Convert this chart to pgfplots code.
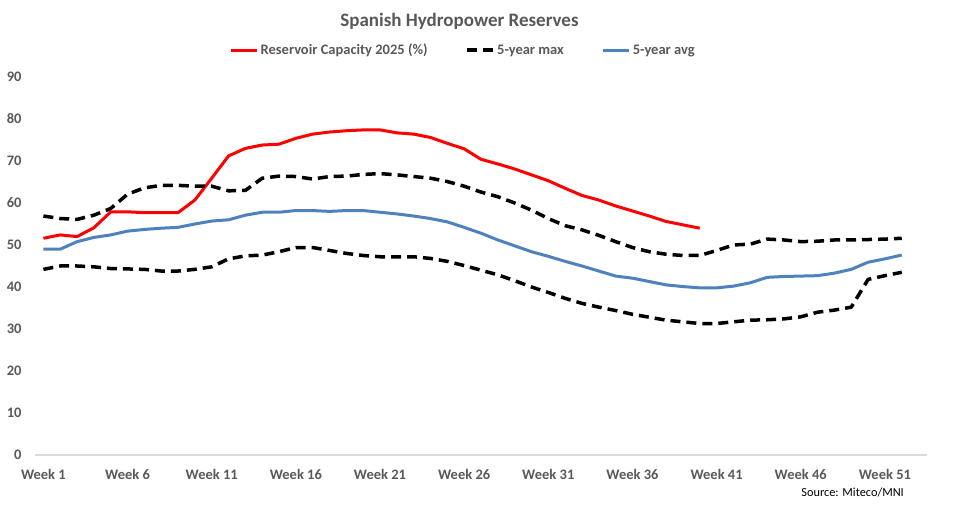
\documentclass[border=0pt]{standalone}
\usepackage{fontspec}
\setmainfont{Carlito}
\usepackage{pgfplots}
\pgfplotsset{compat=1.18}
\definecolor{txtgray}{HTML}{595959}
\definecolor{avgblue}{HTML}{4F81BD}
\definecolor{axgray}{HTML}{D9D9D9}
\newcommand\tickfont{\fontsize{14.5}{17}\selectfont\bfseries}
\begin{document}
\begin{tikzpicture}
\useasboundingbox (-35pt,-53pt) rectangle (919pt,455pt);
\begin{axis}[
  at={(0,0)}, anchor=south west,
  scale only axis, width=892pt, height=378pt,
  xmin=0.5, xmax=53.5, ymin=0, ymax=90,
  axis x line*=bottom, axis y line*=left,
  x axis line style={-, draw=axgray, line width=1.2pt},
  y axis line style={draw=none},
  major tick length=0pt,
  xtick={1,6,11,16,21,26,31,36,41,46,51},
  xticklabels={Week 1,Week 6,Week 11,Week 16,Week 21,Week 26,Week 31,Week 36,Week 41,Week 46,Week 51},
  ytick={0,10,...,90},
  /pgf/number format/assume math mode=true,
  tick label style={font=\tickfont, text=txtgray},
  xticklabel style={anchor=base, yshift=-25pt},
  yticklabel style={anchor=east, xshift=-10pt},
  legend columns=3,
  legend style={at={(0.48,1.071)}, anchor=center, draw=none, fill=none,
    font=\tickfont, text=txtgray, column sep=0pt,
    nodes={inner xsep=2pt},
    /tikz/every even column/.append style={column sep=36pt}},
  legend image code/.code={\draw[#1] (0pt,0pt) -- (26pt,0pt);},
  clip=false,
]
\addplot[red, line width=3pt, line join=round] coordinates {
(1,51.6)(2,52.4)(3,52.0)(4,54.1)(5,57.9)(6,57.9)(7,57.7)(8,57.7)(9,57.7)(10,60.7)
(11,65.9)(12,71.2)(13,73.0)(14,73.8)(15,74.0)(16,75.4)(17,76.4)(18,76.9)(19,77.2)(20,77.4)
(21,77.4)(22,76.7)(23,76.4)(24,75.6)(25,74.2)(26,72.9)(27,70.4)(28,69.3)(29,68.1)(30,66.7)
(31,65.3)(32,63.5)(33,61.8)(34,60.7)(35,59.3)(36,58.1)(37,56.9)(38,55.6)(39,54.8)(40,54.0)};
\addlegendentry{Reservoir Capacity 2025 (\%)}
\addplot[black, line width=3.5pt, dash pattern=on 10pt off 6pt, line join=round] coordinates {
(1,56.9)(2,56.3)(3,56.1)(4,57.1)(5,58.7)(6,62.1)(7,63.6)(8,64.2)(9,64.2)(10,64.0)
(11,64.0)(12,62.9)(13,63.0)(14,65.9)(15,66.4)(16,66.3)(17,65.7)(18,66.3)(19,66.4)(20,66.8)
(21,67.0)(22,66.7)(23,66.3)(24,65.9)(25,65.1)(26,64.0)(27,62.6)(28,61.5)(29,60.0)(30,58.3)
(31,56.3)(32,54.6)(33,53.6)(34,52.3)(35,50.8)(36,49.4)(37,48.4)(38,47.8)(39,47.5)(40,47.5)
(41,48.7)(42,50.0)(43,50.2)(44,51.4)(45,51.2)(46,50.8)(47,50.9)(48,51.2)(49,51.2)(50,51.3)
(51,51.4)(52,51.6)};
\addlegendentry{5-year max}
\addplot[avgblue, line width=3pt, line join=round] coordinates {
(1,49.0)(2,49.0)(3,50.8)(4,51.8)(5,52.4)(6,53.3)(7,53.7)(8,54.0)(9,54.2)(10,55.0)
(11,55.7)(12,56.0)(13,57.1)(14,57.8)(15,57.8)(16,58.2)(17,58.2)(18,58.0)(19,58.2)(20,58.2)
(21,57.8)(22,57.4)(23,56.9)(24,56.3)(25,55.5)(26,54.2)(27,52.8)(28,51.2)(29,49.8)(30,48.4)
(31,47.3)(32,46.1)(33,45.0)(34,43.8)(35,42.6)(36,42.1)(37,41.3)(38,40.5)(39,40.1)(40,39.8)
(41,39.8)(42,40.2)(43,41.0)(44,42.3)(45,42.5)(46,42.6)(47,42.7)(48,43.3)(49,44.2)(50,45.9)
(51,46.7)(52,47.6)};
\addlegendentry{5-year avg}
\addplot[black, line width=3.5pt, dash pattern=on 10pt off 6pt, line join=round, forget plot] coordinates {
(1,44.2)(2,45.0)(3,45.0)(4,44.8)(5,44.4)(6,44.3)(7,44.2)(8,43.8)(9,43.8)(10,44.2)
(11,44.8)(12,46.7)(13,47.4)(14,47.6)(15,48.4)(16,49.4)(17,49.4)(18,48.7)(19,48.0)(20,47.5)
(21,47.2)(22,47.2)(23,47.2)(24,46.8)(25,46.1)(26,45.1)(27,44.0)(28,42.9)(29,41.5)(30,40.0)
(31,38.7)(32,37.3)(33,36.1)(34,35.2)(35,34.4)(36,33.5)(37,32.8)(38,32.1)(39,31.7)(40,31.3)
(41,31.3)(42,31.7)(43,32.1)(44,32.2)(45,32.4)(46,32.9)(47,34.0)(48,34.5)(49,35.2)(50,41.8)
(51,42.7)(52,43.5)};
\end{axis}
\node[anchor=base, font=\fontsize{19}{22}\selectfont\bfseries, text=txtgray, inner sep=0pt] at (424.5pt,428.5pt) {Spanish Hydropower Reserves};
\node[anchor=east, font=\fontsize{12.3}{14}\selectfont, text=black, inner sep=0pt] at (869pt,-37pt) {Source: Miteco/MNI};
\end{tikzpicture}
\end{document}
